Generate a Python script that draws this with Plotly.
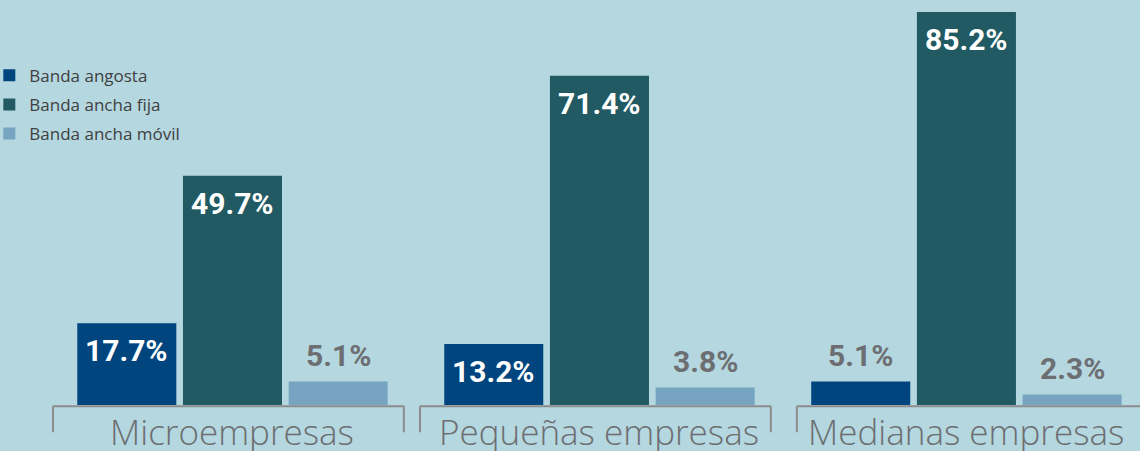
import plotly.graph_objects as go

categories = ["Microempresas", "Pequeñas empresas", "Medianas empresas"]
series_names = ["Banda angosta", "Banda ancha fija", "Banda ancha móvil"]
banda_angosta = [17.7, 13.2, 5.1]
banda_ancha_fija = [49.7, 71.4, 85.2]
banda_ancha_movil = [5.1, 3.8, 2.3]

colors = ["#00457e", "#215a62", "#77a5c1"]
# label placement per series: True = inside the bar (white), False = above (gray)
inside = [[True, True, False],
          [True, True, True],
          [False, False, False]]
BG = "#b4d7e0"
GRAY = "#6d6e71"
LABEL_FONT = "Roboto, sans-serif"
BARGAP = 0.136
BARGROUPGAP = 0.063

fig = go.Figure()
all_series = [banda_angosta, banda_ancha_fija, banda_ancha_movil]
for name, vals, col in zip(series_names, all_series, colors):
    fig.add_trace(go.Bar(
        x=categories, y=vals, name=name, legendgroup=name,
        marker=dict(color=col, line=dict(width=0)),
        hoverinfo="skip",
    ))

# value labels, positioned at each bar's centre (grouped-bar slot) and value
slot = (1 - BARGAP) / len(all_series)
for j, (vals, ins) in enumerate(zip(all_series, inside)):
    for i, (v, is_in) in enumerate(zip(vals, ins)):
        xc = i + (j - (len(all_series) - 1) / 2) * slot
        fig.add_annotation(
            x=xc, y=v, xref="x", yref="y", text=f"{v:.1f}%", showarrow=False,
            xanchor="center", yanchor="top" if is_in else "bottom",
            yshift=-8 if is_in else 6,
            font=dict(family=LABEL_FONT, size=30, weight="bold",
                      color="white" if is_in else GRAY))

# brackets under each category
bracket_col = "#8c8c8c"
spans = [(-0.489, 0.467), (0.511, 1.467), (1.538, 2.6)]
for x0, x1 in spans:
    fig.add_shape(type="line", xref="x", yref="y", x0=x0, x1=x1, y0=-0.25, y1=-0.25,
                  line=dict(color=bracket_col, width=2))
    fig.add_shape(type="line", xref="x", yref="y", x0=x0, x1=x0, y0=-0.25, y1=-5.9,
                  line=dict(color=bracket_col, width=2))
    fig.add_shape(type="line", xref="x", yref="y", x0=x1, x1=x1, y0=-0.25, y1=-5.9,
                  line=dict(color=bracket_col, width=2))

for cat in categories:
    fig.add_annotation(x=cat, y=-5.74, xref="x", yref="y", text=cat, showarrow=False,
                       yanchor="middle", xanchor="center",
                       font=dict(family="Open Sans, Noto Sans, sans-serif", size=35,
                                 color=GRAY, weight=300))

fig.update_layout(
    width=1140, height=451,
    margin=dict(l=49, r=0, t=0, b=0, autoexpand=False),
    paper_bgcolor=BG, plot_bgcolor=BG,
    barmode="group", bargap=BARGAP, bargroupgap=BARGROUPGAP,
    showlegend=True,
    legend=dict(x=-0.0547, y=0.872, xanchor="left", yanchor="top",
                bgcolor="rgba(0,0,0,0)", traceorder="grouped", tracegroupgap=4,
                font=dict(family="Open Sans, Noto Sans, sans-serif", size=17, color="#3f4041")),
    xaxis=dict(range=[-0.5, 2.473], visible=False),
    yaxis=dict(range=[-9.97, 87.8], visible=False),
    font=dict(family="Open Sans, sans-serif"),
)

fig.write_html("out.html", config={"displayModeBar": False},
               post_script="document.body.style.margin='0';document.body.style.padding='0';"
                           "document.body.style.background='" + BG + "';")
